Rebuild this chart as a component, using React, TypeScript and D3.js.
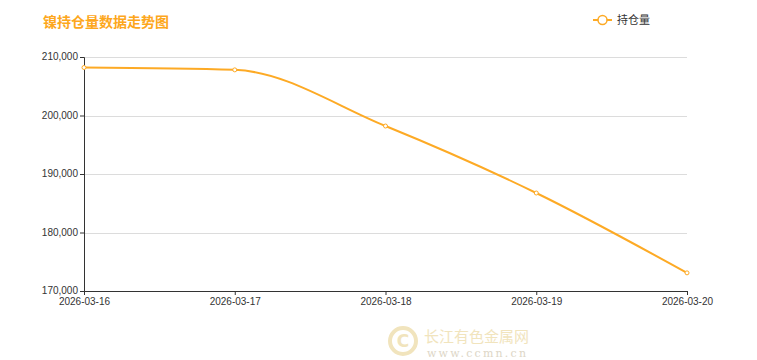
import React, { useEffect, useRef } from 'react';
import * as d3 from 'd3';

const dates = ['2026-03-16', '2026-03-17', '2026-03-18', '2026-03-19', '2026-03-20'];
const holdings = [208200, 207800, 198200, 186750, 173100];
const yTicks = [170000, 180000, 190000, 200000, 210000];

const title = '镍持仓量数据走势图';
const seriesName = '持仓量';
const lineColor = '#fdaa25';

const App: React.FC = () => {
  const svgRef = useRef<SVGSVGElement>(null);
  const width = 757;
  const height = 360;

  useEffect(() => {
    if (!svgRef.current) return;
    const svg = d3.select(svgRef.current);
    svg.selectAll('*').remove();

    const margin = { top: 57, right: 70, bottom: 69, left: 84 };
    const chartWidth = width - margin.left - margin.right;
    const chartHeight = height - margin.top - margin.bottom;
    const font = '"Noto Sans CJK SC", "Noto Sans", sans-serif';
    const numFont = '"Liberation Sans", Arial, sans-serif';

    const x = d3.scalePoint().domain(dates).range([0, chartWidth]);
    const y = d3.scaleLinear().domain([170000, 210000]).range([chartHeight, 0]);

    // title
    svg.append('text')
      .attr('x', 43)
      .attr('y', 27)
      .style('font-family', font)
      .style('font-size', '14px')
      .style('font-weight', 'bold')
      .style('fill', '#fda71c')
      .text(title);

    // legend
    const legend = svg.append('g').attr('transform', 'translate(593, 20)');
    legend.append('line')
      .attr('x1', 0).attr('x2', 19).attr('y1', 0).attr('y2', 0)
      .style('stroke', lineColor).style('stroke-width', 2);
    legend.append('circle')
      .attr('cx', 9.5).attr('cy', 0).attr('r', 4.5)
      .style('fill', '#fff').style('stroke', lineColor).style('stroke-width', 1.5);
    legend.append('text')
      .attr('x', 24).attr('y', 4)
      .style('font-family', font).style('font-size', '11px').style('fill', '#333')
      .text(seriesName);

    // watermark
    const wm = svg.append('g');
    wm.append('circle').attr('cx', 403).attr('cy', 341).attr('r', 13)
      .style('fill', 'none').style('stroke', '#f1e4bd').style('stroke-width', 4);
    wm.append('text').attr('x', 403).attr('y', 347)
      .style('text-anchor', 'middle').style('font-family', 'DejaVu Sans, sans-serif')
      .style('font-size', '17px').style('font-weight', 'bold').style('fill', '#f1e4bd')
      .text('C');
    wm.append('text').attr('x', 424).attr('y', 342)
      .style('font-family', font).style('font-size', '15px').style('fill', '#f1e4bd')
      .text('长江有色金属网');
    wm.append('text').attr('x', 427).attr('y', 357)
      .style('font-family', '"DejaVu Serif", serif').style('font-size', '11px')
      .style('letter-spacing', '2.2px').style('fill', '#ddd6c6')
      .text('www.ccmn.cn');

    const g = svg.append('g').attr('transform', `translate(${margin.left}, ${margin.top})`);

    // gridlines
    g.selectAll('.grid')
      .data(yTicks)
      .enter().append('line')
      .attr('x1', 0).attr('x2', chartWidth)
      .attr('y1', d => Math.round(y(d)) + 0.5).attr('y2', d => Math.round(y(d)) + 0.5)
      .style('stroke', '#dcdcdc').style('stroke-width', 1);

    // y axis
    const yAxis = g.append('g')
      .call(d3.axisLeft(y).tickValues(yTicks).tickSize(4).tickPadding(2).tickFormat(d => d3.format(',')(d as number)));
    yAxis.select('.domain').style('stroke', '#333');
    yAxis.selectAll('line').style('stroke', '#333');
    yAxis.selectAll('text')
      .attr('dy', '0.28em')
      .style('font-family', numFont).style('font-size', '10px').style('fill', '#333');

    // x axis
    const xAxis = g.append('g')
      .attr('transform', `translate(0, ${chartHeight})`)
      .call(d3.axisBottom(x).tickSize(4).tickSizeOuter(0).tickPadding(3));
    xAxis.select('.domain').style('stroke', '#333');
    xAxis.selectAll('line').style('stroke', '#333');
    xAxis.selectAll('text').style('font-family', numFont).style('font-size', '10px').style('fill', '#333');

    // line
    const line = d3.line<number>()
      .x((_d, i) => x(dates[i]) || 0)
      .y(d => y(d))
      .curve(d3.curveMonotoneX);

    g.append('path')
      .datum(holdings)
      .attr('d', line)
      .style('fill', 'none')
      .style('stroke', lineColor)
      .style('stroke-width', 2);

    g.selectAll('.pt')
      .data(holdings)
      .enter().append('circle')
      .attr('cx', (_d, i) => x(dates[i]) || 0)
      .attr('cy', d => y(d))
      .attr('r', 2)
      .style('fill', '#fff')
      .style('stroke', lineColor)
      .style('stroke-width', 1);
  }, []);

  return (
    <svg
      ref={svgRef}
      width={width}
      height={height}
      style={{ position: 'absolute', left: 0, top: 0, background: '#fff' }}
    />
  );
};

export default App;
